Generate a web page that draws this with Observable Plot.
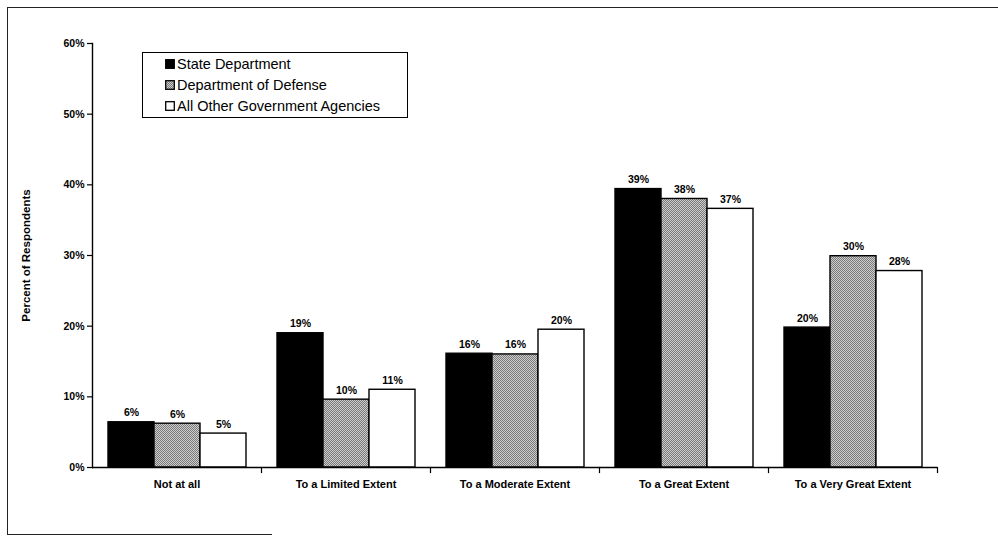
<!DOCTYPE html>
<html>
<head>
<meta charset="utf-8">
<script src="https://cdn.jsdelivr.net/npm/d3@7"></script>
<script src="https://cdn.jsdelivr.net/npm/@observablehq/plot@0.6"></script>
<style>
  body { margin: 0; background: #fff; }
  #wrap { position: relative; width: 998px; height: 537px; overflow: hidden; font-family: "Liberation Sans", Arial, sans-serif; }
  #wrap > svg.mainplot { position: absolute; left: 0; top: 0; }
  .scan-top { position: absolute; left: 7px; top: 7px; width: 991px; height: 0; border-top: 1.5px solid #222; }
  .scan-left { position: absolute; left: 7px; top: 7px; width: 0; height: 528px; border-left: 1.5px solid #222; }
  .scan-bottom { position: absolute; left: 7px; top: 534px; width: 265px; height: 0; border-top: 1.5px solid #222; }
  #legend { position: absolute; left: 142px; top: 52px; width: 264px; height: 64px; border: 1.3px solid #000; background: #fff; }
  #legend .row { position: absolute; left: 22px; height: 18px; display: flex; align-items: center; font-size: 14.5px; color: #000; white-space: nowrap; }
  #legend .row svg { display: block; flex: none; margin-right: 2px; }
</style>
</head>
<body>
<div id="wrap">
  <div class="scan-top"></div>
  <div class="scan-left"></div>
  <div class="scan-bottom"></div>
</div>
<script>
// ---- data ----
const categories = ["Not at all", "To a Limited Extent", "To a Moderate Extent", "To a Great Extent", "To a Very Great Extent"];
const seriesNames = ["State Department", "Department of Defense", "All Other Government Agencies"];
const stateDept     = [6.4, 19.0, 16.1, 39.4, 19.8];
const defense       = [6.2,  9.6, 16.0, 38.0, 29.9];
const otherAgencies = [4.8, 11.0, 19.5, 36.6, 27.8];
const yTicks = [0, 10, 20, 30, 40, 50, 60];
const yLabel = "Percent of Respondents";

const seriesValues = [stateDept, defense, otherAgencies];
const rows = [];
categories.forEach((c, i) => {
  seriesNames.forEach((s, j) => rows.push({category: c, series: s, value: seriesValues[j][i]}));
});
const fills = {
  "State Department": "#000",
  "Department of Defense": "url(#dither)",
  "All Other Government Agencies": "#fff"
};

const font = "Liberation Sans, Arial, sans-serif";

const plot = Plot.plot({
  width: 998,
  height: 537,
  marginLeft: 90,
  marginRight: 60,
  marginTop: 43,
  marginBottom: 70,
  style: {fontFamily: font, background: "transparent", color: "#000"},
  fx: {domain: categories, padding: 0},
  x: {domain: seriesNames, paddingInner: 0, paddingOuter: 0.3, axis: null},
  y: {domain: [0, 60]},
  marks: [
    ...seriesNames.map(s => Plot.barY(rows.filter(d => d.series === s), {
      fx: "category", x: "series", y: "value",
      fill: fills[s], stroke: "#000", strokeWidth: 1.4
    })),
    Plot.text(rows, {
      fx: "category", x: "series", y: "value",
      text: d => Math.round(d.value) + "%",
      lineAnchor: "bottom", dy: -6,
      fontSize: 10.5, fontWeight: "bold", fill: "#000"
    }),
    Plot.ruleY([0], {stroke: "#000", strokeWidth: 1.3}),
    Plot.frame({anchor: "right", insetTop: 424, insetBottom: -5, stroke: "#000", strokeWidth: 1.2}),
    Plot.frame({anchor: "left", facetAnchor: "left", stroke: "#000", strokeWidth: 1.4}),
    Plot.axisY({
      ticks: yTicks, tickFormat: d => d + "%", tickSize: 5, tickPadding: 3,
      fontSize: 10.5, fontWeight: "bold", label: null, strokeWidth: 1.2
    }),
    Plot.axisY({
      ticks: [], tickSize: 0, label: yLabel, labelAnchor: "center", labelOffset: 71,
      labelArrow: "none", fontSize: 11.5, fontWeight: "bold"
    }),
    Plot.axisFx({
      anchor: "bottom", tickSize: 0, tickPadding: 13, label: null,
      fontSize: 11, fontWeight: "bold"
    })
  ]
});
plot.classList.add("mainplot");

// dither pattern for the Department of Defense bars
const ns = "http://www.w3.org/2000/svg";
const defs = document.createElementNS(ns, "defs");
const pat = document.createElementNS(ns, "pattern");
pat.setAttribute("id", "dither");
pat.setAttribute("patternUnits", "userSpaceOnUse");
pat.setAttribute("width", "2");
pat.setAttribute("height", "2");
const bg = document.createElementNS(ns, "rect");
bg.setAttribute("width", "2"); bg.setAttribute("height", "2"); bg.setAttribute("fill", "#cdcdcd");
pat.appendChild(bg);
[[0, 0], [1, 1]].forEach(([px, py]) => {
  const r = document.createElementNS(ns, "rect");
  r.setAttribute("x", px); r.setAttribute("y", py);
  r.setAttribute("width", "1"); r.setAttribute("height", "1");
  r.setAttribute("fill", "#7a7a7a");
  pat.appendChild(r);
});
defs.appendChild(pat);
plot.insertBefore(defs, plot.firstChild);

const wrap = document.getElementById("wrap");
wrap.insertBefore(plot, wrap.firstChild);

// legend (HTML, drawn inside the plot area as in the original)
const legend = document.createElement("div");
legend.id = "legend";
seriesNames.forEach((s, j) => {
  const row = document.createElement("div");
  row.className = "row";
  row.style.top = (2 + j * 21) + "px";
  const sw = document.createElementNS(ns, "svg");
  sw.setAttribute("width", "10"); sw.setAttribute("height", "10");
  const rr = document.createElementNS(ns, "rect");
  rr.setAttribute("x", "0.7"); rr.setAttribute("y", "0.7");
  rr.setAttribute("width", "8.6"); rr.setAttribute("height", "8.6");
  rr.setAttribute("fill", fills[s]); rr.setAttribute("stroke", "#000"); rr.setAttribute("stroke-width", "1.3");
  sw.appendChild(rr);
  row.appendChild(sw);
  const t = document.createElement("span");
  t.textContent = s;
  row.appendChild(t);
  legend.appendChild(row);
});
wrap.appendChild(legend);
</script>
</body>
</html>
